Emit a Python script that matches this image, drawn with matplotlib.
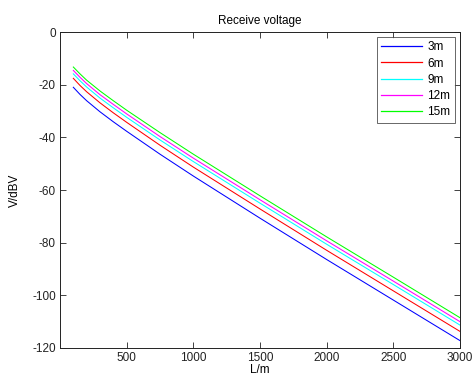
import matplotlib
matplotlib.use("Agg")
import matplotlib.pyplot as plt

# distance along the line (m)
L = [100, 150, 200, 300, 400, 500, 750, 1000, 1500, 2000, 2500, 3000]

v_3m = [-21.0, -23.7, -26.1, -30.3, -34.1, -37.7, -46.4, -54.7, -70.7, -86.4, -101.8, -117.2]
v_6m = [-17.6, -20.3, -22.7, -26.9, -30.7, -34.3, -43.0, -51.3, -67.2, -82.9, -98.3, -113.7]
v_9m = [-15.9, -18.5, -20.9, -25.1, -28.8, -32.4, -41.0, -49.2, -65.0, -80.6, -95.9, -111.3]
v_12m = [-14.6, -17.2, -19.6, -23.8, -27.5, -31.1, -39.7, -47.9, -63.7, -79.3, -94.6, -110.0]
v_15m = [-13.3, -15.9, -18.3, -22.4, -26.1, -29.7, -38.2, -46.4, -62.2, -77.8, -93.1, -108.5]

labels = ["3m", "6m", "9m", "12m", "15m"]
colors = ["#0000ff", "#ff0000", "#00ffff", "#ff00ff", "#00ff00"]

plt.rcParams["font.family"] = ["Liberation Sans", "DejaVu Sans"]
plt.rcParams["font.size"] = 8
plt.rcParams["axes.unicode_minus"] = False

fig = plt.figure(figsize=(4.73, 3.77), dpi=100)
ax = fig.add_axes([60 / 473, 1 - 348 / 377, 400 / 473, 316 / 377])

for ys, lab, col in zip([v_3m, v_6m, v_9m, v_12m, v_15m], labels, colors):
    ax.plot(L, ys, color=col, linewidth=0.75, label=lab)

ax.set_xlim(0, 3000)
ax.set_ylim(-120, 0)
ax.set_xticks([500, 1000, 1500, 2000, 2500, 3000])
ax.set_yticks([-120, -100, -80, -60, -40, -20, 0])
ax.tick_params(direction="in", length=4, width=0.6, top=True, right=True,
               colors="#222222", labelsize=8.5, pad=3)
for s in ax.spines.values():
    s.set_linewidth(0.7)
    s.set_color("#222222")

ax.set_title("Receive voltage", fontsize=8.5, pad=6)
ax.set_ylabel("V/dBV", fontsize=8.5, labelpad=8)
ax.set_xlabel("L/m", fontsize=8.5, labelpad=0)

leg = ax.legend(loc="upper right", fontsize=8.5, frameon=True, fancybox=False,
                edgecolor="#222222", handlelength=3.4, labelspacing=0.35,
                borderaxespad=0.4, handletextpad=0.5, borderpad=0.4)
leg.get_frame().set_linewidth(0.6)
for h in leg.get_lines():
    h.set_linewidth(0.9)

fig.savefig("out.png", dpi=100)
